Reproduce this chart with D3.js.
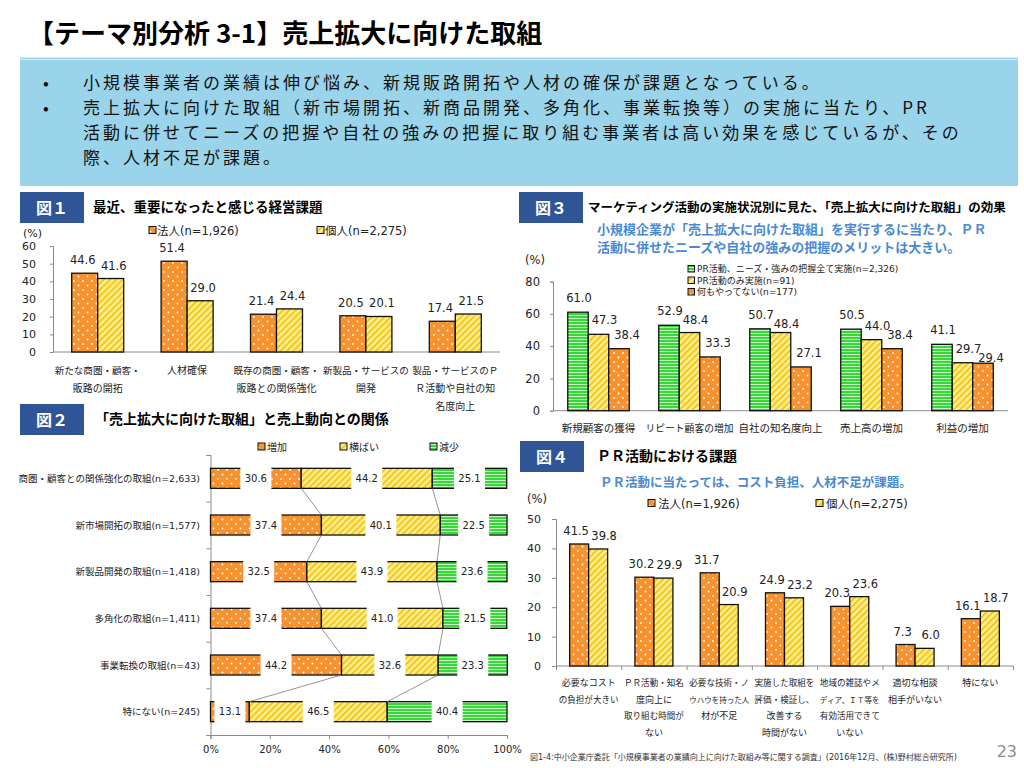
<!DOCTYPE html>
<html><head><meta charset="utf-8">
<script src="https://cdn.jsdelivr.net/npm/d3@7"></script>
<style>
html,body{margin:0;padding:0;background:#fff;}
svg{display:block;}
</style></head>
<body>
<svg id="c" width="1024" height="768"></svg>
<script>
// ================= DATA =================
const pageTitle = "【テーマ別分析 3-1】売上拡大に向けた取組";
const summaryBullets = [
  ["小規模事業者の業績は伸び悩み、新規販路開拓や人材の確保が課題となっている。"],
  ["売上拡大に向けた取組（新市場開拓、新商品開発、多角化、事業転換等）の実施に当たり、PR",
   "活動に併せてニーズの把握や自社の強みの把握に取り組む事業者は高い効果を感じているが、その",
   "際、人材不足が課題。"]
];

// 図1
const fig1Title = "最近、重要になったと感じる経営課題";
const fig1Categories = [["新たな商圏・顧客・","販路の開拓"],["人材確保"],["既存の商圏・顧客・","販路との関係強化"],["新製品・サービスの","開発"],["製品・サービスのＰ","Ｒ活動や自社の知","名度向上"]];
const fig1Series = ["法人(n=1,926)","個人(n=2,275)"];
const fig1Corp  = [44.6, 51.4, 21.4, 20.5, 17.4];
const fig1Indiv = [41.6, 29.0, 24.4, 20.1, 21.5];
const fig1Ticks = [0,10,20,30,40,50,60];

// 図2
const fig2Title = "「売上拡大に向けた取組」と売上動向との関係";
const fig2Categories = ["商圏・顧客との関係強化の取組(n=2,633)","新市場開拓の取組(n=1,577)","新製品開発の取組(n=1,418)","多角化の取組(n=1,411)","事業転換の取組(n=43)","特にない(n=245)"];
const fig2Series = ["増加","横ばい","減少"];
const fig2Increase = [30.6, 37.4, 32.5, 37.4, 44.2, 13.1];
const fig2Flat     = [44.2, 40.1, 43.9, 41.0, 32.6, 46.5];
const fig2Decrease = [25.1, 22.5, 23.6, 21.5, 23.3, 40.4];
const fig2Ticks = [0,20,40,60,80,100];

// 図3
const fig3Title = "マーケティング活動の実施状況別に見た、「売上拡大に向けた取組」の効果";
const fig3Subtitle = ["小規模企業が「売上拡大に向けた取組」を実行するに当たり、ＰＲ","活動に併せたニーズや自社の強みの把握のメリットは大きい。"];
const fig3Categories = ["新規顧客の獲得","リピート顧客の増加","自社の知名度向上","売上高の増加","利益の増加"];
const fig3Series = ["PR活動、ニーズ・強みの把握全て実施(n=2,326)","PR活動のみ実施(n=91)","何もやってない(n=177)"];
const fig3All    = [61.0, 52.9, 50.7, 50.5, 41.1];
const fig3PROnly = [47.3, 48.4, 48.4, 44.0, 29.7];
const fig3None   = [38.4, 33.3, 27.1, 38.4, 29.4];
const fig3Ticks = [0,20,40,60,80];

// 図4
const fig4Title = "ＰＲ活動における課題";
const fig4Subtitle = "ＰＲ活動に当たっては、コスト負担、人材不足が課題。";
const fig4Categories = [["必要なコスト","の負担が大きい"],["ＰＲ活動・知名","度向上に","取り組む時間が","ない"],["必要な技術・ノ","ウハウを持った人","材が不足"],["実施した取組を","評価・検証し、","改善する","時間がない"],["地域の雑誌やメ","ディア、ＩＴ等を","有効活用できて","いない"],["適切な相談","相手がいない"],["特にない"]];
const fig4Series = ["法人(n=1,926)","個人(n=2,275)"];
const fig4Corp  = [41.5, 30.2, 31.7, 24.9, 20.3, 7.3, 16.1];
const fig4Indiv = [39.8, 29.9, 20.9, 23.2, 23.6, 6.0, 18.7];
const fig4Ticks = [0,10,20,30,40,50];

const footnote = "図1-4:中小企業庁委託「小規模事業者の業績向上に向けた取組み等に関する調査」(2016年12月、(株)野村総合研究所)";
const pageNumber = "23";

// ================= STYLE =================
const JP = "'Noto Sans CJK JP','Noto Sans CJK SC',sans-serif";
const MIX = "'DejaVu Sans','Noto Sans CJK JP',sans-serif";
const TXT = "#222";
const AXIS = "#8a8a8a";
const ORANGE = "#F7922F";
const NAVY = "#2F5597";
const SUBBLUE = "#4A89D2";

const svg = d3.select("#c");
const defs = svg.append("defs");

// patterns
const pd = defs.append("pattern").attr("id","pDots").attr("patternUnits","userSpaceOnUse").attr("width",9).attr("height",9);
pd.append("rect").attr("width",9).attr("height",9).attr("fill",ORANGE);
pd.append("circle").attr("cx",2).attr("cy",2).attr("r",0.9).attr("fill","#fff");
pd.append("circle").attr("cx",6.5).attr("cy",6.5).attr("r",0.9).attr("fill","#fff");

const py = defs.append("pattern").attr("id","pDiag").attr("patternUnits","userSpaceOnUse").attr("width",4.5).attr("height",4.5).attr("patternTransform","rotate(45)");
py.append("rect").attr("width",4.5).attr("height",4.5).attr("fill","#FFEE8E");
py.append("rect").attr("width",2).attr("height",4.5).attr("fill","#F2C81E");

const pg = defs.append("pattern").attr("id","pHor").attr("patternUnits","userSpaceOnUse").attr("width",4).attr("height",3);
pg.append("rect").attr("width",4).attr("height",3).attr("fill","#38D838");
pg.append("rect").attr("width",4).attr("height",1).attr("fill","#C6F5C6");

const FILL_OR = "url(#pDots)", FILL_YE = "url(#pDiag)", FILL_GR = "url(#pHor)";

function txt(g, s, x, y, size, opt={}) {
  const t = g.append("text").attr("x",x).attr("y",y).text(s)
    .attr("font-family", opt.family || JP).attr("font-size", size)
    .attr("fill", opt.fill || TXT)
    .attr("text-anchor", opt.anchor || "start")
    .attr("font-weight", opt.weight || "normal");
  if (opt.ls) t.attr("letter-spacing", opt.ls);
  if (opt.maxW) {
    const L = t.node().getComputedTextLength();
    if (L > opt.maxW) t.attr("font-size", size * opt.maxW / L);
  }
  return t;
}

// ================= HEADER =================
txt(svg, pageTitle, 28, 43, 26, {weight:"bold", fill:"#000"});
svg.append("line").attr("x1",20).attr("x2",1018).attr("y1",58.5).attr("y2",58.5).attr("stroke","#9DD5EB").attr("stroke-width",2);
svg.append("rect").attr("x",20).attr("y",60).attr("width",998).attr("height",126).attr("fill","#9AD4EA");
{
  let lineNo = 0;
  summaryBullets.forEach(lines => {
    lines.forEach((l,k) => {
      const yy = 89 + lineNo*25;
      if (k === 0) txt(svg, "•", 43, yy, 17, {fill:"#111"});
      txt(svg, l, 83, yy, 17, {fill:"#111", ls:3});
      lineNo++;
    });
  });
}

function figLabel(x, y, label, title, tx, tsize) {
  svg.append("rect").attr("x",x).attr("y",y).attr("width",64).attr("height",31).attr("fill",NAVY);
  txt(svg, label, x+32, y+21.5, 16, {anchor:"middle", weight:"bold", fill:"#fff"});
  txt(svg, title, tx, y+20, tsize, {weight:"bold", fill:"#000"});
}

function legendSquare(g, x, y, fill, size=7) {
  g.append("rect").attr("x",x).attr("y",y).attr("width",size).attr("height",size).attr("fill",fill).attr("stroke","#111").attr("stroke-width",1);
}

// generic grouped bars
function groupedBars(cfg) {
  const g = svg.append("g");
  const xb = d3.scaleBand().domain(d3.range(cfg.cats.length)).range([cfg.x0, cfg.x1]);
  const n = cfg.series.length;
  const bw = xb.bandwidth();
  const xs = d3.scaleBand().domain(d3.range(n)).range([(bw - n*cfg.barW)/2, (bw + n*cfg.barW)/2]);
  const y = cfg.y;
  // axes
  const ya = g.append("g").attr("transform",`translate(${cfg.x0},0)`)
    .call(d3.axisLeft(y).tickValues(cfg.ticks).tickSize(cfg.tickSize).tickPadding(cfg.tickPad).tickFormat(d3.format("d")));
  ya.select(".domain").attr("stroke",AXIS);
  ya.selectAll(".tick line").attr("stroke",AXIS);
  ya.selectAll(".tick text").attr("font-family",MIX).attr("font-size",cfg.tickFont).attr("fill",TXT);
  g.append("line").attr("x1",cfg.x0).attr("x2",cfg.x1).attr("y1",y(0)).attr("y2",y(0)).attr("stroke",AXIS);
  if (cfg.catTicks) {
    const xc = d3.scaleLinear().domain([0,cfg.cats.length]).range([cfg.x0,cfg.x1]);
    const xa = g.append("g").attr("transform",`translate(0,${y(0)})`)
      .call(d3.axisBottom(xc).tickValues(d3.range(cfg.cats.length+1)).tickSize(4).tickFormat(""));
    xa.select(".domain").remove();
    xa.selectAll(".tick line").attr("stroke",AXIS);
  }
  // bars
  cfg.series.forEach((arr,s) => {
    g.selectAll(null).data(arr).enter().append("rect")
      .attr("x",(v,i)=>xb(i)+xs(s)).attr("y",v=>y(v))
      .attr("width",xs.bandwidth()).attr("height",v=>y(0)-y(v))
      .attr("fill",cfg.fills[s]).attr("stroke","#111").attr("stroke-width",1.3);
  });
  // value labels
  cfg.cats.forEach((c,i) => {
    let prev = null;
    cfg.series.forEach((arr,s) => {
      const v = arr[i];
      const cx = xb(i)+xs(s)+xs.bandwidth()/2 + cfg.labelDx[s];
      let base = y(v) - cfg.labelGap;
      const t = txt(g, d3.format(".1f")(v), cx, base, cfg.labelFont, {family:MIX, anchor:"middle"});
      const w = t.node().getComputedTextLength();
      if (prev && (cx - w/2) < prev.r + 1.5 && Math.abs(base - prev.b) < 9) {
        base = prev.b + 9; t.attr("y", base);
      }
      prev = {r: cx + w/2, b: base};
    });
  });
  // category labels
  cfg.cats.forEach((c,i) => {
    const lines = Array.isArray(c) ? c : [c];
    lines.forEach((l,k) => txt(g, l, xb(i)+bw/2, cfg.catY + k*cfg.catLH, cfg.catFont, {anchor:"middle", maxW: cfg.catMaxW}));
  });
  return g;
}

// ================= 図1 =================
figLabel(20, 192, "図１", fig1Title, 93, 13.5);
{
  const y = d3.scaleLinear().domain([0,60]).range([352,246]);
  groupedBars({cats:fig1Categories, series:[fig1Corp, fig1Indiv], fills:[FILL_OR, FILL_YE],
    x0:53, x1:500, y, barW:26, ticks:fig1Ticks, tickSize:3, tickPad:14, tickFont:11,
    labelDx:[-2,3], labelGap:9, labelFont:11.5, catY:374, catLH:18, catFont:10, catMaxW:86});
  txt(svg, "(%)", 23, 237, 11, {family:MIX});
  legendSquare(svg, 149, 226.5, FILL_OR);
  txt(svg, fig1Series[0], 157, 234.5, 11.5, {family:MIX});
  legendSquare(svg, 317, 226.5, FILL_YE);
  txt(svg, fig1Series[1], 325, 234.5, 11.5, {family:MIX});
}

// ================= 図2 =================
figLabel(20, 404, "図２", fig2Title, 95, 14);
{
  const g = svg.append("g");
  const table = fig2Categories.map((c,i)=>({cat:i, inc:fig2Increase[i], flat:fig2Flat[i], dec:fig2Decrease[i]}));
  const keys = ["inc","flat","dec"];
  const fills = [FILL_OR, FILL_YE, FILL_GR];
  const stack = d3.stack().keys(keys)(table);
  const x = d3.scaleLinear().domain([0,100]).range([210.5,507]);
  const yb = d3.scaleBand().domain(d3.range(fig2Categories.length)).range([455,735]).paddingInner(0.571).paddingOuter(0.2855);
  const bh = yb.bandwidth();
  // axes
  const yl = d3.scaleLinear().domain([0,fig2Categories.length]).range([455,735]);
  const ya = g.append("g").attr("transform","translate(210.5,0)")
    .call(d3.axisLeft(yl).tickValues(d3.range(fig2Categories.length+1)).tickSize(4).tickFormat(""));
  ya.select(".domain").attr("stroke",AXIS);
  ya.selectAll(".tick line").attr("stroke",AXIS);
  const xa = g.append("g").attr("transform","translate(0,735)")
    .call(d3.axisBottom(x).tickValues(fig2Ticks).tickSize(4).tickPadding(7).tickFormat(d=>d+"%"));
  xa.select(".domain").attr("stroke",AXIS);
  xa.selectAll(".tick line").attr("stroke",AXIS);
  xa.selectAll(".tick text").attr("font-family",MIX).attr("font-size",10).attr("fill",TXT);
  // bars
  stack.forEach((layer,k) => {
    g.selectAll(null).data(layer).enter().append("rect")
      .attr("x",d=>x(d[0])).attr("y",(d,i)=>yb(i))
      .attr("width",d=>x(d[1])-x(d[0])).attr("height",bh)
      .attr("fill",fills[k]).attr("stroke","#111").attr("stroke-width",1.3);
  });
  // labels with white boxes
  stack.forEach((layer,k) => {
    layer.forEach((d,i) => {
      const cx = (x(d[0])+x(d[1]))/2;
      g.append("rect").attr("x",cx-15.5).attr("y",yb(i)-1.5).attr("width",31).attr("height",bh+3).attr("fill","#fff");
      txt(g, d3.format(".1f")(d[1]-d[0]), cx, yb(i)+bh/2+3.7, 10, {family:MIX, anchor:"middle"});
    });
  });
  // series lines
  [0,1].forEach(k => {
    for (let i=0;i<fig2Categories.length-1;i++) {
      g.append("line").attr("x1",x(stack[k][i][1])).attr("y1",yb(i)+bh)
        .attr("x2",x(stack[k][i+1][1])).attr("y2",yb(i+1))
        .attr("stroke","#7a7a7a").attr("stroke-width",0.8);
    }
  });
  // row labels
  fig2Categories.forEach((c,i) => txt(g, c, 200, yb(i)+bh/2+3.5, 9.5, {family:MIX, anchor:"end"}));
  // legend
  const lx = [258, 340, 430];
  fig2Series.forEach((s,k) => {
    legendSquare(g, lx[k], 443, fills[k]);
    txt(g, s, lx[k]+9, 450.5, 10);
  });
}

// ================= 図3 =================
figLabel(519, 192, "図３", fig3Title, 588, 12.5);
fig3Subtitle.forEach((l,k) => txt(svg, l, 597, 234 + k*18, 13, {weight:"bold", fill:SUBBLUE}));
{
  const y = d3.scaleLinear().domain([0,80]).range([410.7,281.5]);
  groupedBars({cats:fig3Categories, series:[fig3All, fig3PROnly, fig3None], fills:[FILL_GR, FILL_YE, FILL_OR],
    x0:553, x1:1008, y, barW:20.5, ticks:fig3Ticks, tickSize:3, tickPad:10, tickFont:11.5,
    labelDx:[1,6,8], labelGap:10, labelFont:11.5, catY:432, catLH:16, catFont:10.5, catMaxW:88});
  txt(svg, "(%)", 525, 264, 11.5, {family:MIX});
  const fills = [FILL_GR, FILL_YE, FILL_OR];
  fig3Series.forEach((s,k) => {
    legendSquare(svg, 688, 265.5 + k*11.5, fills[k], 6.5);
    txt(svg, s, 697, 272 + k*11.5, 9, {family:MIX});
  });
}

// ================= 図4 =================
figLabel(520, 441, "図４", fig4Title, 597, 14);
txt(svg, fig4Subtitle, 600, 487, 12.5, {weight:"bold", fill:SUBBLUE});
{
  const y = d3.scaleLinear().domain([0,50]).range([666,519]);
  groupedBars({cats:fig4Categories, series:[fig4Corp, fig4Indiv], fills:[FILL_OR, FILL_YE],
    x0:556, x1:1013, y, barW:19, ticks:fig4Ticks, tickSize:4, tickPad:11, tickFont:11,
    labelDx:[-3,6], labelGap:9, labelFont:11.5, catY:686, catLH:16.5, catFont:9, catMaxW:60, catTicks:true});
  txt(svg, "(%)", 527, 503, 11.5, {family:MIX});
  legendSquare(svg, 648, 499.5, FILL_OR);
  txt(svg, fig4Series[0], 658, 507.5, 11.5, {family:MIX});
  legendSquare(svg, 816, 499.5, FILL_YE);
  txt(svg, fig4Series[1], 826, 507.5, 11.5, {family:MIX});
}

// ================= FOOTER =================
txt(svg, footnote, 530, 760, 8, {family:MIX, fill:"#333"});
txt(svg, pageNumber, 1017, 757, 16, {family:MIX, anchor:"end", fill:"#8c8c8c"});
</script>
</body></html>
